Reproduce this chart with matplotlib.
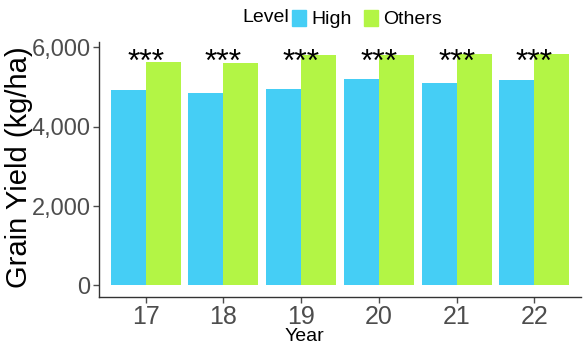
import numpy as np
import matplotlib
matplotlib.use("Agg")
import matplotlib.pyplot as plt
from matplotlib.patches import Patch

plt.rcParams['font.family'] = ['Liberation Sans', 'DejaVu Sans']

years = ["17", "18", "19", "20", "21", "22"]
high = [4937, 4861, 4962, 5214, 5113, 5189]
others = [5642, 5617, 5819, 5819, 5844, 5844]
signif = ["***", "***", "***", "***", "***", "***"]

c_high = "#45CEF5"
c_others = "#B3F545"

W, H = 585, 351
fig = plt.figure(figsize=(W / 100, H / 100), dpi=100)
left, right, top, bottom = 99, 581, 42, 297
ax = fig.add_axes([left / W, 1 - bottom / H, (right - left) / W, (bottom - top) / H])

x = np.arange(len(years))
bw = 0.45
ax.bar(x - bw / 2, high, width=bw, color=c_high, label="High")
ax.bar(x + bw / 2, others, width=bw, color=c_others, label="Others")

ymax = max(others)
# significance stars above each pair
for xi, s in zip(x, signif):
    ax.text(xi, 5400, s, ha="center", va="baseline", fontsize=23, color="black")

ax.set_xlim(-0.6, len(years) - 1 + 0.6)
ax.set_ylim(-0.05 * ymax, 1.05 * ymax)
ax.set_xticks(x)
ax.set_xticklabels(years)
ax.set_yticks([0, 2000, 4000, 6000])
ax.set_yticklabels(["0", "2,000", "4,000", "6,000"])
ax.tick_params(axis="both", labelsize=17, colors="#4D4D4D", length=4, width=1)
ax.tick_params(axis="x", labelsize=18, pad=2)
ax.tick_params(axis="y", pad=2)
for side in ["top", "right"]:
    ax.spines[side].set_visible(False)
for side in ["left", "bottom"]:
    ax.spines[side].set_color("#333333")
    ax.spines[side].set_linewidth(1)

ax.set_ylabel("Grain Yield (kg/ha)", fontsize=21, color="black")
ax.yaxis.set_label_coords((33 - left) / (right - left), 0.51)
ax.set_xlabel("Year", fontsize=14, color="black")
ax.xaxis.set_label_coords((304 - left) / (right - left), -(328 - bottom) / (bottom - top))

fig.text(266 / W, 1 - 18 / H, "Level", ha="center", va="center", fontsize=14)
handles = [Patch(color=c_high), Patch(color=c_others)]
fig.legend(handles, ["High", "Others"], loc="center", ncol=2,
           bbox_to_anchor=(367 / W, 1 - 19 / H), frameon=False, fontsize=14,
           handlelength=0.72, handleheight=0.93, handletextpad=0.3,
           columnspacing=0.6, borderpad=0, borderaxespad=0)

fig.savefig("out.png", dpi=100)
